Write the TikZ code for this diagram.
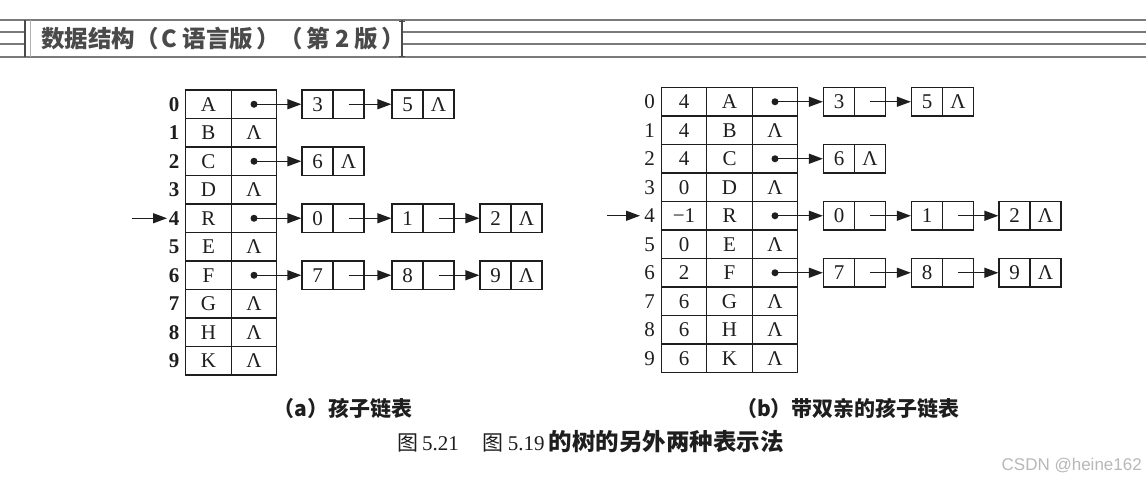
\documentclass[tikz,border=0pt]{standalone}
\usepackage{fontspec}
\setmainfont{Liberation Serif}
\newfontfamily\cjk{Noto Sans CJK SC}
\newfontfamily\wmfont{Liberation Sans}
\usetikzlibrary{arrows.meta}
\definecolor{ink}{HTML}{1E1E1E}
\definecolor{hdr}{HTML}{7A7A7A}
\definecolor{hdrtext}{HTML}{4A4A4A}
\tikzset{
  cell/.style={draw=ink, line width=1.3pt, minimum width=45.5pt, minimum height=28.5pt, inner sep=0pt, text=ink, font=\fontsize{21}{21}\selectfont},
  lcell/.style={cell, minimum width=31pt},
  idx/.style={inner sep=0pt, text=ink, font=\fontsize{21}{21}\selectfont},
  ptr/.style={-{Triangle[length=14pt,width=10pt]}, line width=1.3pt, draw=ink},
  dotm/.style={fill=ink, circle, inner sep=0pt, minimum size=7pt},
  hline/.style={draw=hdr, line width=1.3pt},
  capt/.style={inner sep=0pt, text=ink, font=\cjk\bfseries\fontsize{21}{21}\selectfont},
}
\newcommand{\mklnode}[5]{%
  \node[lcell] (#1v) at ({#2+15.5},#3) {#4};
  \node[lcell] (#1l) at ({#2+46.5},#3) {#5};
}
\begin{document}
\begin{tikzpicture}[x=1pt,y=-1pt]
\useasboundingbox (0,0) rectangle (1146,496);
\fill[white] (0,0) rectangle (1146,496);
% ---------- header ----------
\coordinate (hl0) at (0,20); \coordinate (hr0) at (1146,20);
\coordinate (hl3) at (0,57); \coordinate (hr3) at (1146,57);
\draw[hline] (hl0) -- (hr0);
\draw[hline] (hl3) -- (hr3);
\coordinate (hla) at (0,32); \coordinate (hlb) at (25,32);
\coordinate (hlc) at (0,44); \coordinate (hld) at (25,44);
\draw[hline] (hla) -- (hlb);
\draw[hline] (hlc) -- (hld);
\coordinate (hv1) at (25,20); \coordinate (hv2) at (25,57);
\draw[draw=ink!80, line width=1.3pt] (hv1) -- (hv2);
\coordinate (hb1) at (30,20); \coordinate (hb2) at (30,57);
\draw[draw=hdr!60, line width=1pt] (hb1) -- (hb2);
\coordinate (hra) at (402,32); \coordinate (hrb) at (1146,32);
\coordinate (hrc) at (402,44); \coordinate (hrd) at (1146,44);
\draw[hline] (hra) -- (hrb);
\draw[hline] (hrc) -- (hrd);
\coordinate (ib1) at (402,20); \coordinate (ib2) at (402,57);
\draw[draw=ink!80, line width=1.2pt] (ib1) -- (ib2);
\coordinate (ib3) at (399,21); \coordinate (ib4) at (405,21);
\coordinate (ib5) at (399,56); \coordinate (ib6) at (405,56);
\draw[draw=ink!80, line width=1pt] (ib3) -- (ib4) (ib5) -- (ib6);
\node[inner sep=0pt, anchor=west, text=hdrtext, font=\cjk\bfseries\fontsize{23.5}{23.5}\selectfont] (title) at (41,39) {数据结构（\hspace{3pt}C 语言版\hspace{3pt}）（\hspace{3pt}第 2 版\hspace{3pt}）};
% ---------- table (a) ----------
\foreach \i/\d/\p in {0/A/1,1/B/0,2/C/1,3/D/0,4/R/1,5/E/0,6/F/1,7/G/0,8/H/0,9/K/0}{
  \node[idx, font=\bfseries\fontsize{21}{21}\selectfont] (ai\i) at (174,{104.25+28.5*\i}) {\i};
  \node[cell] (ad\i) at (208.5,{104.25+28.5*\i}) {\d};
  \node[cell] (ap\i) at (254,{104.25+28.5*\i}) {\ifnum\p=0 Λ\fi};
}
\foreach \i in {0,2,4,6}{ \node[dotm] (adot\i) at (ap\i.center) {}; }
% row 0
\mklnode{a0n1}{302}{104.25}{3}{}
\mklnode{a0n2}{392}{104.25}{5}{Λ}
\draw[ptr] (adot0.center) -- (a0n1v.west);
\draw[ptr] (a0n1l.center) -- (a0n2v.west);
% row 2
\mklnode{a2n1}{302}{161.25}{6}{Λ}
\draw[ptr] (adot2.center) -- (a2n1v.west);
% row 4
\mklnode{a4n1}{302}{218.25}{0}{}
\mklnode{a4n2}{392}{218.25}{1}{}
\mklnode{a4n3}{480}{218.25}{2}{Λ}
\draw[ptr] (adot4.center) -- (a4n1v.west);
\draw[ptr] (a4n1l.center) -- (a4n2v.west);
\draw[ptr] (a4n2l.center) -- (a4n3v.west);
% row 6
\mklnode{a6n1}{302}{275.25}{7}{}
\mklnode{a6n2}{392}{275.25}{8}{}
\mklnode{a6n3}{480}{275.25}{9}{Λ}
\draw[ptr] (adot6.center) -- (a6n1v.west);
\draw[ptr] (a6n1l.center) -- (a6n2v.west);
\draw[ptr] (a6n2l.center) -- (a6n3v.west);
% entry arrow
\coordinate (aent) at (132,218.25);
\draw[ptr] (aent) -- ++(35,0) coordinate (aentend);
\node[capt] (capa) at (343,408) {（a）孩子链表};
% ---------- table (b) ----------
\foreach \i/\q/\d/\p in {0/4/A/1,1/4/B/0,2/4/C/1,3/0/D/0,4/−1/R/1,5/0/E/0,6/2/F/1,7/6/G/0,8/6/H/0,9/6/K/0}{
  \node[idx] (bi\i) at (649.5,{101.75+28.5*\i}) {\i};
  \node[cell] (bq\i) at (684,{101.75+28.5*\i}) {\q};
  \node[cell] (bd\i) at (729.5,{101.75+28.5*\i}) {\d};
  \node[cell] (bp\i) at (775,{101.75+28.5*\i}) {\ifnum\p=0 Λ\fi};
}
\foreach \i in {0,2,4,6}{ \node[dotm] (bdot\i) at (bp\i.center) {}; }
% row 0
\mklnode{b0n1}{823.5}{101.75}{3}{}
\mklnode{b0n2}{911.5}{101.75}{5}{Λ}
\draw[ptr] (bdot0.center) -- (b0n1v.west);
\draw[ptr] (b0n1l.center) -- (b0n2v.west);
% row 2
\mklnode{b2n1}{823.5}{158.75}{6}{Λ}
\draw[ptr] (bdot2.center) -- (b2n1v.west);
% row 4
\mklnode{b4n1}{823.5}{215.75}{0}{}
\mklnode{b4n2}{911.5}{215.75}{1}{}
\mklnode{b4n3}{999}{215.75}{2}{Λ}
\draw[ptr] (bdot4.center) -- (b4n1v.west);
\draw[ptr] (b4n1l.center) -- (b4n2v.west);
\draw[ptr] (b4n2l.center) -- (b4n3v.west);
% row 6
\mklnode{b6n1}{823.5}{272.75}{7}{}
\mklnode{b6n2}{911.5}{272.75}{8}{}
\mklnode{b6n3}{999}{272.75}{9}{Λ}
\draw[ptr] (bdot6.center) -- (b6n1v.west);
\draw[ptr] (b6n1l.center) -- (b6n2v.west);
\draw[ptr] (b6n2l.center) -- (b6n3v.west);
% entry arrow
\coordinate (bent) at (607,215.75);
\draw[ptr] (bent) -- ++(33,0) coordinate (bentend);
\node[capt] (capb) at (848,408) {（b）带双亲的孩子链表};
% ---------- main caption ----------
\node[inner sep=0pt, anchor=west, text=ink, font=\fontsize{21}{21}\selectfont] (mcap) at (397,442)
  {{\cjk 图}\hspace{4pt}5.21\hspace{24pt}{\cjk 图}\hspace{4pt}5.19\hspace{4pt}{\cjk\bfseries\fontsize{23.5}{23.5}\selectfont 的树的另外两种表示法}};
% ---------- watermark ----------
\node[inner sep=0pt, anchor=east, text=black!28, font=\wmfont\fontsize{17}{17}\selectfont] (wm) at (1142,466) {CSDN @heine162};
\end{tikzpicture}
\end{document}
